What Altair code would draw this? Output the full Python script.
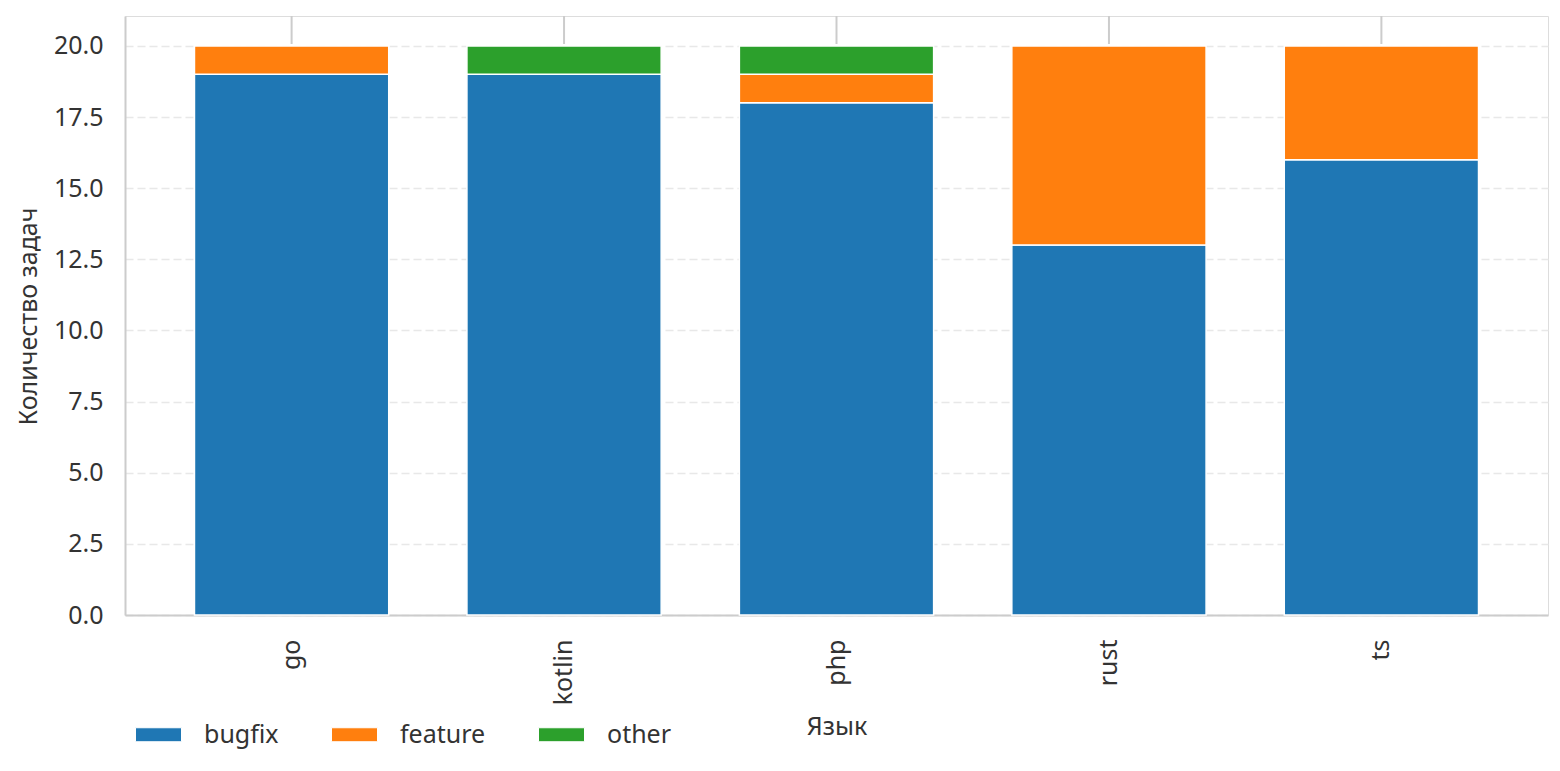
import altair as alt
import pandas as pd

languages = ["go", "kotlin", "php", "rust", "ts"]
task_types = ["bugfix", "feature", "other"]
bugfix = [19, 19, 18, 13, 16]
feature = [1, 0, 1, 7, 4]
other = [0, 1, 1, 0, 0]
colors = ["#1f77b4", "#ff7f0e", "#2ca02c"]
y_ticks = [0, 2.5, 5, 7.5, 10, 12.5, 15, 17.5, 20]

rows = []
for i, lang in enumerate(languages):
    for j, (t, vals) in enumerate(zip(task_types, [bugfix, feature, other])):
        if vals[i] > 0:
            rows.append({"lang": lang, "type": t, "count": vals[i], "ord": j})
df = pd.DataFrame(rows)
df_lang = pd.DataFrame({"lang": languages})

FONT = "Noto Sans"
FS = 25

x_enc = alt.X(
    "lang:N",
    sort=languages,
    title="Язык",
    scale=alt.Scale(paddingInner=0.287, paddingOuter=0.255),
    axis=alt.Axis(
        labelAngle=270,
        labelAlign="right",
        labelBaseline="middle",
        labelPadding=24,
        ticks=False,
        grid=False,
        domainColor="#cccccc",
        domainWidth=2,
        labelFontSize=FS,
        labelColor="#333333",
        titleFontSize=FS,
        titleFontWeight="normal",
        titleColor="#333333",
        titleY=111,
        titleBaseline="middle",
    ),
)

bars = alt.Chart(df).mark_bar(stroke="white", strokeWidth=1.5).encode(
    x=x_enc,
    y=alt.Y(
        "sum(count):Q",
        title="Количество задач",
        scale=alt.Scale(domain=[0, 21.05], nice=False),
        axis=alt.Axis(
            values=y_ticks,
            format=".1f",
            ticks=False,
            labelPadding=22,
            domainColor="#cccccc",
            domainWidth=2,
            grid=True,
            gridColor="#e8e8e8",
            gridDash=[8, 4],
            gridWidth=1.5,
            labelFontSize=FS,
            labelColor="#333333",
            titleFontSize=FS,
            titleFontWeight="normal",
            titleColor="#333333",
            titleX=-97,
            titleY=300,
            titleAlign="center",
            titleBaseline="middle",
            titleAngle=270,
        ),
    ),
    color=alt.Color(
        "type:N",
        sort=task_types,
        scale=alt.Scale(domain=task_types, range=colors),
        legend=alt.Legend(
            title=None,
            orient="none",
            direction="horizontal",
            legendX=10,
            legendY=695,
            symbolType="M-1,-0.304L1,-0.304L1,0.304L-1,0.304Z",
            symbolSize=2116,
            symbolStrokeColor="white",
            symbolStrokeWidth=1,
            symbolOpacity=1,
            labelFontSize=FS,
            labelColor="#333333",
            labelOffset=22,
            columnPadding=50,
        ),
    ),
    order=alt.Order("ord:Q", sort="ascending"),
)

top_ticks = alt.Chart(df_lang).mark_rule(color="#cccccc", strokeWidth=2).encode(
    x=alt.X("lang:N", sort=languages),
    y=alt.value(0),
    y2=alt.value(28),
)

chart = alt.layer(top_ticks, bars).properties(
    width=1423,
    height=599,
    autosize=alt.AutoSizeParams(type="none"),
    padding={"left": 117, "top": 8, "right": 4, "bottom": 148},
).configure_view(stroke=None).configure(font=FONT)

chart.save("out.html", embed_options={"renderer": "svg", "actions": False})
